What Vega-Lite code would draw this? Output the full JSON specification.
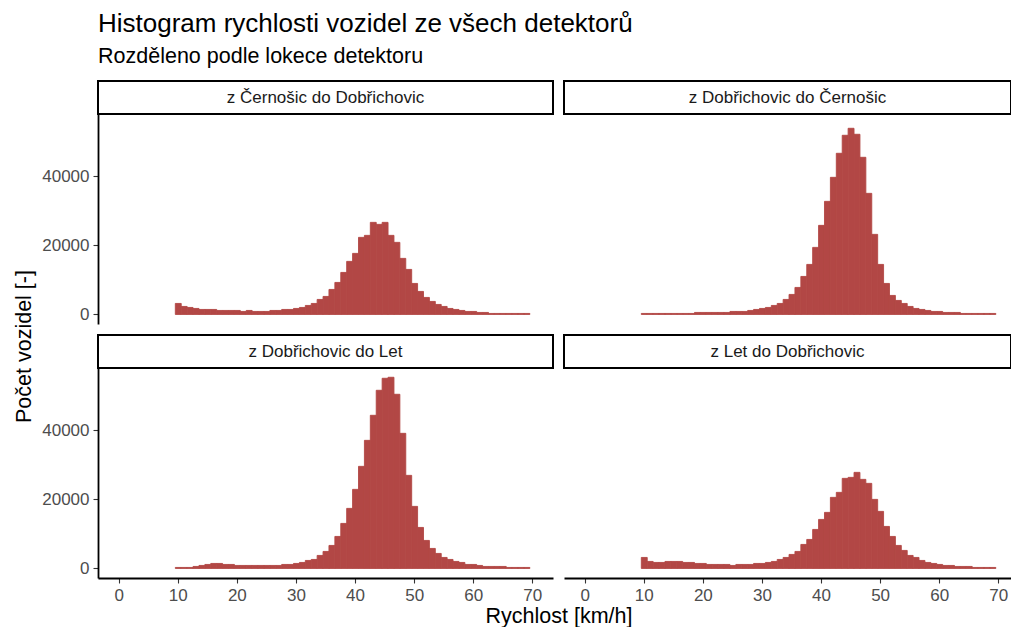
{
 "$schema": "https://vega.github.io/schema/vega-lite/v6.json",
 "background": "white",
 "padding": {"left": 13, "top": 10, "right": 0, "bottom": 0},
 "title": {"text": "Histogram rychlosti vozidel ze všech detektorů", "subtitle": "Rozděleno podle lokece detektoru", "anchor": "start", "frame": "group", "font": "Liberation Sans", "subtitleFont": "Liberation Sans", "fontSize": 26, "subtitleFontSize": 21.5, "fontWeight": "normal", "subtitleFontWeight": "normal", "color": "black", "subtitleColor": "black", "subtitlePadding": 9.5, "offset": 12.5},
 "datasets": {
  "hist": [
{"smer":"A","od":9.5,"do":10.5,"pocet":3190},{"smer":"A","od":10.5,"do":11.5,"pocet":2320},{"smer":"A","od":11.5,"do":12.5,"pocet":2030},{"smer":"A","od":12.5,"do":13.5,"pocet":1740},{"smer":"A","od":13.5,"do":14.5,"pocet":1450},{"smer":"A","od":14.5,"do":15.5,"pocet":1450},{"smer":"A","od":15.5,"do":16.5,"pocet":1450},{"smer":"A","od":16.5,"do":17.5,"pocet":1160},{"smer":"A","od":17.5,"do":18.5,"pocet":1160},{"smer":"A","od":18.5,"do":19.5,"pocet":1160},
{"smer":"A","od":19.5,"do":20.5,"pocet":1160},{"smer":"A","od":20.5,"do":21.5,"pocet":870},{"smer":"A","od":21.5,"do":22.5,"pocet":1160},{"smer":"A","od":22.5,"do":23.5,"pocet":870},{"smer":"A","od":23.5,"do":24.5,"pocet":870},{"smer":"A","od":24.5,"do":25.5,"pocet":870},{"smer":"A","od":25.5,"do":26.5,"pocet":1160},{"smer":"A","od":26.5,"do":27.5,"pocet":1160},{"smer":"A","od":27.5,"do":28.5,"pocet":1450},{"smer":"A","od":28.5,"do":29.5,"pocet":1450},
{"smer":"A","od":29.5,"do":30.5,"pocet":1740},{"smer":"A","od":30.5,"do":31.5,"pocet":2030},{"smer":"A","od":31.5,"do":32.5,"pocet":2610},{"smer":"A","od":32.5,"do":33.5,"pocet":3190},{"smer":"A","od":33.5,"do":34.5,"pocet":4350},{"smer":"A","od":34.5,"do":35.5,"pocet":5220},{"smer":"A","od":35.5,"do":36.5,"pocet":7250},{"smer":"A","od":36.5,"do":37.5,"pocet":9280},{"smer":"A","od":37.5,"do":38.5,"pocet":12180},{"smer":"A","od":38.5,"do":39.5,"pocet":15380},
{"smer":"A","od":39.5,"do":40.5,"pocet":17700},{"smer":"A","od":40.5,"do":41.5,"pocet":22340},{"smer":"A","od":41.5,"do":42.5,"pocet":22920},{"smer":"A","od":42.5,"do":43.5,"pocet":26690},{"smer":"A","od":43.5,"do":44.5,"pocet":26110},{"smer":"A","od":44.5,"do":45.5,"pocet":26690},{"smer":"A","od":45.5,"do":46.5,"pocet":22920},{"smer":"A","od":46.5,"do":47.5,"pocet":20890},{"smer":"A","od":47.5,"do":48.5,"pocet":16250},{"smer":"A","od":48.5,"do":49.5,"pocet":13050},
{"smer":"A","od":49.5,"do":50.5,"pocet":8990},{"smer":"A","od":50.5,"do":51.5,"pocet":6670},{"smer":"A","od":51.5,"do":52.5,"pocet":4930},{"smer":"A","od":52.5,"do":53.5,"pocet":3770},{"smer":"A","od":53.5,"do":54.5,"pocet":2900},{"smer":"A","od":54.5,"do":55.5,"pocet":2320},{"smer":"A","od":55.5,"do":56.5,"pocet":1740},{"smer":"A","od":56.5,"do":57.5,"pocet":1450},{"smer":"A","od":57.5,"do":58.5,"pocet":1160},{"smer":"A","od":58.5,"do":59.5,"pocet":870},
{"smer":"A","od":59.5,"do":60.5,"pocet":870},{"smer":"A","od":60.5,"do":61.5,"pocet":580},{"smer":"A","od":61.5,"do":62.5,"pocet":580},{"smer":"A","od":62.5,"do":63.5,"pocet":290},{"smer":"A","od":63.5,"do":64.5,"pocet":290},{"smer":"A","od":64.5,"do":65.5,"pocet":290},{"smer":"A","od":65.5,"do":66.5,"pocet":290},{"smer":"A","od":66.5,"do":67.5,"pocet":290},{"smer":"A","od":67.5,"do":68.5,"pocet":290},{"smer":"A","od":68.5,"do":69.5,"pocet":290},

{"smer":"B","od":9.5,"do":10.5,"pocet":290},{"smer":"B","od":10.5,"do":11.5,"pocet":290},{"smer":"B","od":11.5,"do":12.5,"pocet":290},{"smer":"B","od":12.5,"do":13.5,"pocet":290},{"smer":"B","od":13.5,"do":14.5,"pocet":290},{"smer":"B","od":14.5,"do":15.5,"pocet":290},{"smer":"B","od":15.5,"do":16.5,"pocet":290},{"smer":"B","od":16.5,"do":17.5,"pocet":290},{"smer":"B","od":17.5,"do":18.5,"pocet":290},{"smer":"B","od":18.5,"do":19.5,"pocet":580},
{"smer":"B","od":19.5,"do":20.5,"pocet":580},{"smer":"B","od":20.5,"do":21.5,"pocet":580},{"smer":"B","od":21.5,"do":22.5,"pocet":580},{"smer":"B","od":22.5,"do":23.5,"pocet":580},{"smer":"B","od":23.5,"do":24.5,"pocet":580},{"smer":"B","od":24.5,"do":25.5,"pocet":870},{"smer":"B","od":25.5,"do":26.5,"pocet":870},{"smer":"B","od":26.5,"do":27.5,"pocet":870},{"smer":"B","od":27.5,"do":28.5,"pocet":1160},{"smer":"B","od":28.5,"do":29.5,"pocet":1450},
{"smer":"B","od":29.5,"do":30.5,"pocet":1740},{"smer":"B","od":30.5,"do":31.5,"pocet":2030},{"smer":"B","od":31.5,"do":32.5,"pocet":2610},{"smer":"B","od":32.5,"do":33.5,"pocet":3190},{"smer":"B","od":33.5,"do":34.5,"pocet":4350},{"smer":"B","od":34.5,"do":35.5,"pocet":5800},{"smer":"B","od":35.5,"do":36.5,"pocet":7830},{"smer":"B","od":36.5,"do":37.5,"pocet":11020},{"smer":"B","od":37.5,"do":38.5,"pocet":14500},{"smer":"B","od":38.5,"do":39.5,"pocet":19440},
{"smer":"B","od":39.5,"do":40.5,"pocet":25820},{"smer":"B","od":40.5,"do":41.5,"pocet":32780},{"smer":"B","od":41.5,"do":42.5,"pocet":39740},{"smer":"B","od":42.5,"do":43.5,"pocet":46710},{"smer":"B","od":43.5,"do":44.5,"pocet":51930},{"smer":"B","od":44.5,"do":45.5,"pocet":53960},{"smer":"B","od":45.5,"do":46.5,"pocet":52220},{"smer":"B","od":46.5,"do":47.5,"pocet":45550},{"smer":"B","od":47.5,"do":48.5,"pocet":35100},{"smer":"B","od":48.5,"do":49.5,"pocet":23210},
{"smer":"B","od":49.5,"do":50.5,"pocet":14500},{"smer":"B","od":50.5,"do":51.5,"pocet":8990},{"smer":"B","od":51.5,"do":52.5,"pocet":5510},{"smer":"B","od":52.5,"do":53.5,"pocet":4060},{"smer":"B","od":53.5,"do":54.5,"pocet":3190},{"smer":"B","od":54.5,"do":55.5,"pocet":2320},{"smer":"B","od":55.5,"do":56.5,"pocet":1740},{"smer":"B","od":56.5,"do":57.5,"pocet":1450},{"smer":"B","od":57.5,"do":58.5,"pocet":1160},{"smer":"B","od":58.5,"do":59.5,"pocet":870},
{"smer":"B","od":59.5,"do":60.5,"pocet":870},{"smer":"B","od":60.5,"do":61.5,"pocet":580},{"smer":"B","od":61.5,"do":62.5,"pocet":580},{"smer":"B","od":62.5,"do":63.5,"pocet":580},{"smer":"B","od":63.5,"do":64.5,"pocet":290},{"smer":"B","od":64.5,"do":65.5,"pocet":290},{"smer":"B","od":65.5,"do":66.5,"pocet":290},{"smer":"B","od":66.5,"do":67.5,"pocet":290},{"smer":"B","od":67.5,"do":68.5,"pocet":290},{"smer":"B","od":68.5,"do":69.5,"pocet":290},

{"smer":"C","od":9.5,"do":10.5,"pocet":290},{"smer":"C","od":10.5,"do":11.5,"pocet":290},{"smer":"C","od":11.5,"do":12.5,"pocet":290},{"smer":"C","od":12.5,"do":13.5,"pocet":580},{"smer":"C","od":13.5,"do":14.5,"pocet":870},{"smer":"C","od":14.5,"do":15.5,"pocet":1160},{"smer":"C","od":15.5,"do":16.5,"pocet":1450},{"smer":"C","od":16.5,"do":17.5,"pocet":1450},{"smer":"C","od":17.5,"do":18.5,"pocet":1160},{"smer":"C","od":18.5,"do":19.5,"pocet":1160},
{"smer":"C","od":19.5,"do":20.5,"pocet":870},{"smer":"C","od":20.5,"do":21.5,"pocet":870},{"smer":"C","od":21.5,"do":22.5,"pocet":870},{"smer":"C","od":22.5,"do":23.5,"pocet":870},{"smer":"C","od":23.5,"do":24.5,"pocet":870},{"smer":"C","od":24.5,"do":25.5,"pocet":870},{"smer":"C","od":25.5,"do":26.5,"pocet":870},{"smer":"C","od":26.5,"do":27.5,"pocet":870},{"smer":"C","od":27.5,"do":28.5,"pocet":1160},{"smer":"C","od":28.5,"do":29.5,"pocet":1160},
{"smer":"C","od":29.5,"do":30.5,"pocet":1450},{"smer":"C","od":30.5,"do":31.5,"pocet":1740},{"smer":"C","od":31.5,"do":32.5,"pocet":2320},{"smer":"C","od":32.5,"do":33.5,"pocet":2610},{"smer":"C","od":33.5,"do":34.5,"pocet":3770},{"smer":"C","od":34.5,"do":35.5,"pocet":4930},{"smer":"C","od":35.5,"do":36.5,"pocet":6670},{"smer":"C","od":36.5,"do":37.5,"pocet":9280},{"smer":"C","od":37.5,"do":38.5,"pocet":13050},{"smer":"C","od":38.5,"do":39.5,"pocet":17410},
{"smer":"C","od":39.5,"do":40.5,"pocet":22920},{"smer":"C","od":40.5,"do":41.5,"pocet":29590},{"smer":"C","od":41.5,"do":42.5,"pocet":37130},{"smer":"C","od":42.5,"do":43.5,"pocet":44390},{"smer":"C","od":43.5,"do":44.5,"pocet":51640},{"smer":"C","od":44.5,"do":45.5,"pocet":55120},{"smer":"C","od":45.5,"do":46.5,"pocet":55410},{"smer":"C","od":46.5,"do":47.5,"pocet":50480},{"smer":"C","od":47.5,"do":48.5,"pocet":39160},{"smer":"C","od":48.5,"do":49.5,"pocet":26980},
{"smer":"C","od":49.5,"do":50.5,"pocet":17990},{"smer":"C","od":50.5,"do":51.5,"pocet":11890},{"smer":"C","od":51.5,"do":52.5,"pocet":8120},{"smer":"C","od":52.5,"do":53.5,"pocet":5800},{"smer":"C","od":53.5,"do":54.5,"pocet":4350},{"smer":"C","od":54.5,"do":55.5,"pocet":3190},{"smer":"C","od":55.5,"do":56.5,"pocet":2610},{"smer":"C","od":56.5,"do":57.5,"pocet":2030},{"smer":"C","od":57.5,"do":58.5,"pocet":1740},{"smer":"C","od":58.5,"do":59.5,"pocet":1160},
{"smer":"C","od":59.5,"do":60.5,"pocet":1160},{"smer":"C","od":60.5,"do":61.5,"pocet":870},{"smer":"C","od":61.5,"do":62.5,"pocet":580},{"smer":"C","od":62.5,"do":63.5,"pocet":580},{"smer":"C","od":63.5,"do":64.5,"pocet":580},{"smer":"C","od":64.5,"do":65.5,"pocet":580},{"smer":"C","od":65.5,"do":66.5,"pocet":290},{"smer":"C","od":66.5,"do":67.5,"pocet":290},{"smer":"C","od":67.5,"do":68.5,"pocet":290},{"smer":"C","od":68.5,"do":69.5,"pocet":290},

{"smer":"D","od":9.5,"do":10.5,"pocet":3190},{"smer":"D","od":10.5,"do":11.5,"pocet":2030},{"smer":"D","od":11.5,"do":12.5,"pocet":1740},{"smer":"D","od":12.5,"do":13.5,"pocet":1740},{"smer":"D","od":13.5,"do":14.5,"pocet":2030},{"smer":"D","od":14.5,"do":15.5,"pocet":2030},{"smer":"D","od":15.5,"do":16.5,"pocet":2030},{"smer":"D","od":16.5,"do":17.5,"pocet":1740},{"smer":"D","od":17.5,"do":18.5,"pocet":1740},{"smer":"D","od":18.5,"do":19.5,"pocet":1450},
{"smer":"D","od":19.5,"do":20.5,"pocet":1450},{"smer":"D","od":20.5,"do":21.5,"pocet":1160},{"smer":"D","od":21.5,"do":22.5,"pocet":1160},{"smer":"D","od":22.5,"do":23.5,"pocet":1160},{"smer":"D","od":23.5,"do":24.5,"pocet":1160},{"smer":"D","od":24.5,"do":25.5,"pocet":870},{"smer":"D","od":25.5,"do":26.5,"pocet":1160},{"smer":"D","od":26.5,"do":27.5,"pocet":1160},{"smer":"D","od":27.5,"do":28.5,"pocet":1160},{"smer":"D","od":28.5,"do":29.5,"pocet":1450},
{"smer":"D","od":29.5,"do":30.5,"pocet":1450},{"smer":"D","od":30.5,"do":31.5,"pocet":1740},{"smer":"D","od":31.5,"do":32.5,"pocet":2030},{"smer":"D","od":32.5,"do":33.5,"pocet":2610},{"smer":"D","od":33.5,"do":34.5,"pocet":3190},{"smer":"D","od":34.5,"do":35.5,"pocet":4060},{"smer":"D","od":35.5,"do":36.5,"pocet":4930},{"smer":"D","od":36.5,"do":37.5,"pocet":6960},{"smer":"D","od":37.5,"do":38.5,"pocet":8410},{"smer":"D","od":38.5,"do":39.5,"pocet":11310},
{"smer":"D","od":39.5,"do":40.5,"pocet":14210},{"smer":"D","od":40.5,"do":41.5,"pocet":16250},{"smer":"D","od":41.5,"do":42.5,"pocet":20600},{"smer":"D","od":42.5,"do":43.5,"pocet":22050},{"smer":"D","od":43.5,"do":44.5,"pocet":26110},{"smer":"D","od":44.5,"do":45.5,"pocet":26400},{"smer":"D","od":45.5,"do":46.5,"pocet":27850},{"smer":"D","od":46.5,"do":47.5,"pocet":25820},{"smer":"D","od":47.5,"do":48.5,"pocet":24660},{"smer":"D","od":48.5,"do":49.5,"pocet":20020},
{"smer":"D","od":49.5,"do":50.5,"pocet":16540},{"smer":"D","od":50.5,"do":51.5,"pocet":12180},{"smer":"D","od":51.5,"do":52.5,"pocet":9280},{"smer":"D","od":52.5,"do":53.5,"pocet":6670},{"smer":"D","od":53.5,"do":54.5,"pocet":5220},{"smer":"D","od":54.5,"do":55.5,"pocet":3770},{"smer":"D","od":55.5,"do":56.5,"pocet":3190},{"smer":"D","od":56.5,"do":57.5,"pocet":2320},{"smer":"D","od":57.5,"do":58.5,"pocet":1740},{"smer":"D","od":58.5,"do":59.5,"pocet":1450},
{"smer":"D","od":59.5,"do":60.5,"pocet":1160},{"smer":"D","od":60.5,"do":61.5,"pocet":870},{"smer":"D","od":61.5,"do":62.5,"pocet":870},{"smer":"D","od":62.5,"do":63.5,"pocet":580},{"smer":"D","od":63.5,"do":64.5,"pocet":580},{"smer":"D","od":64.5,"do":65.5,"pocet":580},{"smer":"D","od":65.5,"do":66.5,"pocet":290},{"smer":"D","od":66.5,"do":67.5,"pocet":290},{"smer":"D","od":67.5,"do":68.5,"pocet":290},{"smer":"D","od":68.5,"do":69.5,"pocet":290}
  ]
 },
 "config": {
  "font": "Liberation Sans",
  "view": {"stroke": null},
  "bar": {"binSpacing": 0},
  "axis": {"grid": false, "domainColor": "black", "domainWidth": 1.8, "tickColor": "#333333", "tickSize": 5, "tickWidth": 1.1, "labelFont": "Liberation Sans", "labelFontSize": 17, "labelColor": "#4D4D4D", "labelPadding": 4, "labelFlush": false, "labelOverlap": false, "titleFont": "Liberation Sans", "titleFontSize": 21.5, "titleFontWeight": "normal", "titleColor": "black"}
 },
 "columns": 2,
 "bounds": "flush",
 "align": "each",
 "spacing": {"row": 0, "column": 11},
 "resolve": {"scale": {"x": "independent", "y": "independent"}},
 "concat": [
  {"width": 455, "height": 33, "data": {"values": [{"label": "z Černošic do Dobřichovic"}]}, "view": {"stroke": "black", "strokeWidth": 2, "fill": "white"}, "mark": {"type": "text", "fontSize": 17, "font": "Liberation Sans", "color": "#1A1A1A"}, "encoding": {"text": {"field": "label"}}},
  {"width": 447, "height": 33, "data": {"values": [{"label": "z Dobřichovic do Černošic"}]}, "view": {"stroke": "black", "strokeWidth": 2, "fill": "white"}, "mark": {"type": "text", "fontSize": 17, "font": "Liberation Sans", "color": "#1A1A1A"}, "encoding": {"text": {"field": "label"}}},
  {"width": 455, "height": 221, "data": {"name": "hist"}, "transform": [{"filter": "datum.smer === 'A'"}],
   "mark": {"type": "bar", "color": "#B24745", "stroke": "#B24745", "strokeWidth": 0.9, "binSpacing": 0},
   "encoding": {
    "x": {"field": "od", "type": "quantitative", "bin": "binned", "scale": {"domain": [-3.5, 73.5], "nice": false, "zero": false}, "axis": null},
    "x2": {"field": "do"},
    "y": {"field": "pocet", "type": "quantitative", "scale": {"domain": [-2770, 58100], "range": [210, 0], "nice": false, "zero": false}, "axis": {"values": [0, 20000, 40000], "format": "d", "title": "Počet vozidel [-]", "titleX": -62.5, "titleY": 232}}
   }},
  {"width": 447, "height": 221, "data": {"name": "hist"}, "transform": [{"filter": "datum.smer === 'B'"}],
   "mark": {"type": "bar", "color": "#B24745", "stroke": "#B24745", "strokeWidth": 0.9, "binSpacing": 0},
   "encoding": {
    "x": {"field": "od", "type": "quantitative", "bin": "binned", "scale": {"domain": [-3.5, 72.15], "nice": false, "zero": false}, "axis": null},
    "x2": {"field": "do"},
    "y": {"field": "pocet", "type": "quantitative", "scale": {"domain": [-2770, 58100], "range": [210, 0], "nice": false, "zero": false}, "axis": null}
   }},
  {"width": 455, "height": 33, "data": {"values": [{"label": "z Dobřichovic do Let"}]}, "view": {"stroke": "black", "strokeWidth": 2, "fill": "white"}, "mark": {"type": "text", "fontSize": 17, "font": "Liberation Sans", "color": "#1A1A1A"}, "encoding": {"text": {"field": "label"}}},
  {"width": 447, "height": 33, "data": {"values": [{"label": "z Let do Dobřichovic"}]}, "view": {"stroke": "black", "strokeWidth": 2, "fill": "white"}, "mark": {"type": "text", "fontSize": 17, "font": "Liberation Sans", "color": "#1A1A1A"}, "encoding": {"text": {"field": "label"}}},
  {"width": 455, "height": 210, "data": {"name": "hist"}, "transform": [{"filter": "datum.smer === 'C'"}],
   "mark": {"type": "bar", "color": "#B24745", "stroke": "#B24745", "strokeWidth": 0.9, "binSpacing": 0},
   "encoding": {
    "x": {"field": "od", "type": "quantitative", "bin": "binned", "scale": {"domain": [-3.5, 73.5], "nice": false, "zero": false}, "axis": {"values": [0, 10, 20, 30, 40, 50, 60, 70], "format": "d", "title": "Rychlost [km/h]", "titleX": 460.5, "titleY": 27}},
    "x2": {"field": "do"},
    "y": {"field": "pocet", "type": "quantitative", "scale": {"domain": [-2770, 58100], "nice": false, "zero": false}, "axis": {"values": [0, 20000, 40000], "format": "d", "title": null}}
   }},
  {"width": 447, "height": 210, "data": {"name": "hist"}, "transform": [{"filter": "datum.smer === 'D'"}],
   "mark": {"type": "bar", "color": "#B24745", "stroke": "#B24745", "strokeWidth": 0.9, "binSpacing": 0},
   "encoding": {
    "x": {"field": "od", "type": "quantitative", "bin": "binned", "scale": {"domain": [-3.5, 72.15], "nice": false, "zero": false}, "axis": {"values": [0, 10, 20, 30, 40, 50, 60, 70], "format": "d", "title": null}},
    "x2": {"field": "do"},
    "y": {"field": "pocet", "type": "quantitative", "scale": {"domain": [-2770, 58100], "nice": false, "zero": false}, "axis": null}
   }}
 ]
}
